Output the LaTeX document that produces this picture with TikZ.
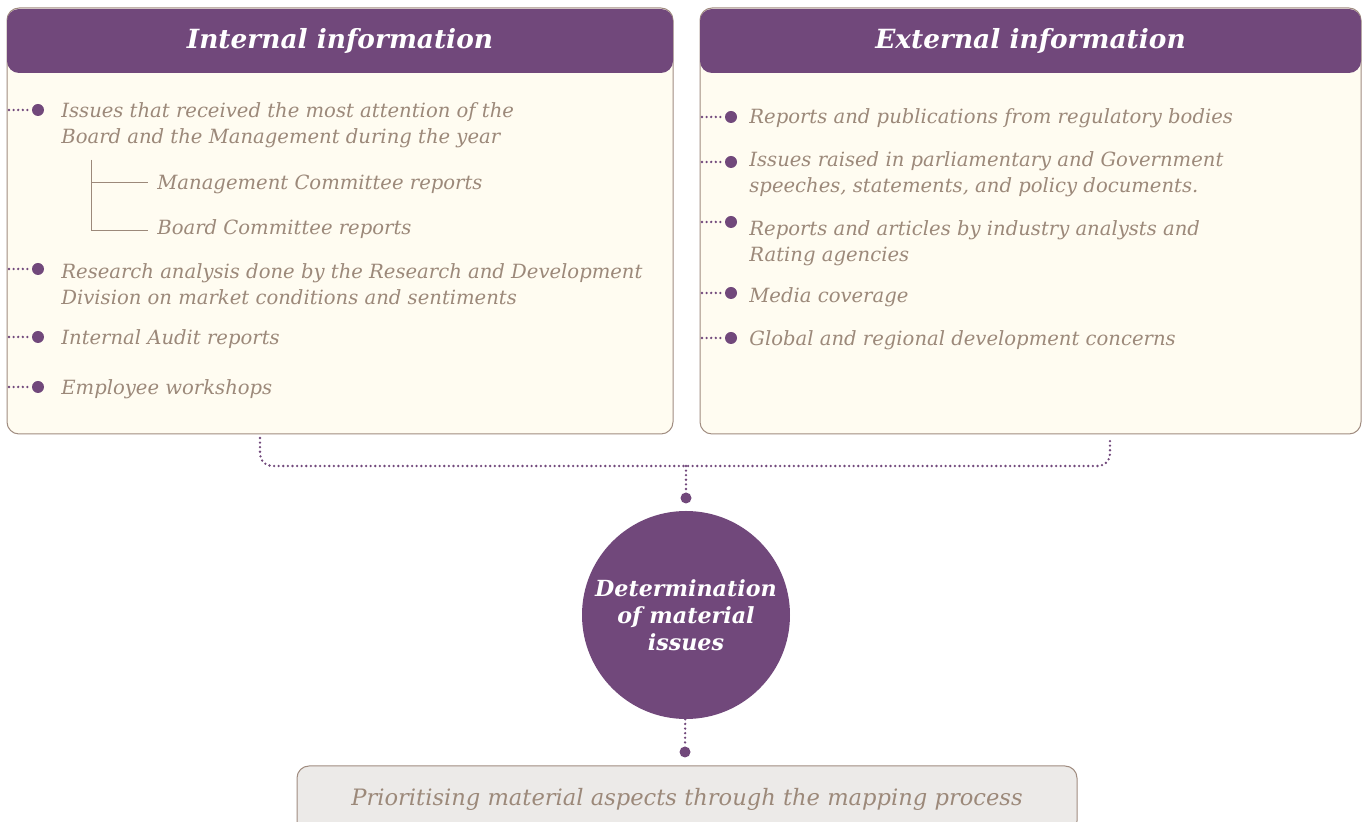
\documentclass[tikz,border=0pt]{standalone}
\usepackage{fontspec}
\setmainfont{DejaVu Serif}
\usetikzlibrary{positioning,calc}
\definecolor{infopurple}{RGB}{113,72,123}
\definecolor{infocream}{RGB}{255,252,241}
\definecolor{infotext}{RGB}{156,137,122}
\definecolor{infoborder}{RGB}{160,140,128}
\definecolor{prioritygray}{RGB}{236,234,232}

\begin{document}
\begin{tikzpicture}[x=0.5pt, y=-0.5pt,
    panel/.style={rectangle, rounded corners=6pt, draw=infoborder, fill=infocream, line width=0.5pt, minimum width=333pt, minimum height=213pt},
    header/.style={rectangle, rounded corners=6pt, fill=infopurple, minimum width=333pt, minimum height=32pt, text=white, font=\fontsize{13.2}{15}\selectfont\bfseries\itshape},
    item/.style={anchor=west, align=left, inner sep=0pt, text=infotext, font=\fontsize{9.8}{13}\selectfont\itshape},
    dot/.style={circle, fill=infopurple, inner sep=0pt, minimum size=6pt},
    link/.style={draw=infopurple, line width=1.3pt, line cap=round, dash pattern=on 0pt off 2.3pt},
    tree/.style={draw=infotext, line width=0.5pt},
    hub/.style={circle, fill=infopurple, minimum size=104pt, inner sep=0pt, text=white, align=center, font=\fontsize{11.1}{13.5}\selectfont\bfseries\itshape},
    result/.style={rectangle, rounded corners=6pt, draw=infoborder, fill=prioritygray, line width=0.5pt, minimum width=390pt, minimum height=33.5pt, text=infotext, font=\fontsize{11.3}{13}\selectfont\itshape}
]
\useasboundingbox (0,0) rectangle (1362,822);

% Internal information
\node[panel] (intbox) at (340,221) {};
\node[header] (inthead) at (340,41) {Internal information};

\coordinate (i1s) at (9,110);
\node[dot] (i1) at (38,110) {};
\draw[link] (i1s) -- (i1);
\node[item] (i1t) at (61,125) {Issues that received the most attention of the\\Board and the Management during the year};

\coordinate (treetop) at (91,160);
\node[item] (m1) at (157,184) {Management Committee reports};
\node[item] (b1) at (157,229) {Board Committee reports};
\draw[tree] (treetop) |- ([xshift=-4.5pt,yshift=0.5pt]m1.west);
\draw[tree] (treetop) |- ([xshift=-4.5pt,yshift=-1pt]b1.west);

\coordinate (i2s) at (9,269);
\node[dot] (i2) at (38,269) {};
\draw[link] (i2s) -- (i2);
\node[item] (i2t) at (61,284) {Research analysis done by the Research and Development\\Division on market conditions and sentiments};

\coordinate (i3s) at (9,337);
\node[dot] (i3) at (38,337) {};
\draw[link] (i3s) -- (i3);
\node[item] (i3t) at (61,339) {Internal Audit reports};

\coordinate (i4s) at (9,387);
\node[dot] (i4) at (38,387) {};
\draw[link] (i4s) -- (i4);
\node[item] (i4t) at (61,389) {Employee workshops};

% External information
\node[panel, minimum width=330.5pt] (extbox) at (1030.5,221) {};
\node[header, minimum width=330.5pt] (exthead) at (1030.5,41) {External information};

\coordinate (e1s) at (702,117);
\node[dot] (e1) at (731,117) {};
\draw[link] (e1s) -- (e1);
\node[item] (e1t) at (749,118) {Reports and publications from regulatory bodies};

\coordinate (e2s) at (702,162);
\node[dot] (e2) at (731,162) {};
\draw[link] (e2s) -- (e2);
\node[item] (e2t) at (749,174.5) {Issues raised in parliamentary and Government\\speeches, statements, and policy documents.};

\coordinate (e3s) at (702,222);
\node[dot] (e3) at (731,222) {};
\draw[link] (e3s) -- (e3);
\node[item] (e3t) at (749,243) {Reports and articles by industry analysts and\\Rating agencies};

\coordinate (e4s) at (702,293);
\node[dot] (e4) at (731,293) {};
\draw[link] (e4s) -- (e4);
\node[item] (e4t) at (749,297) {Media coverage};

\coordinate (e5s) at (702,338);
\node[dot] (e5) at (731,338) {};
\draw[link] (e5s) -- (e5);
\node[item] (e5t) at (749,340) {Global and regional development concerns};

% Merging into the hub
\coordinate (intout) at (260,438);
\coordinate (extout) at (1110,438);
\coordinate (merge) at (686,466);
\draw[link, rounded corners=6pt] (intout) |- (merge) -| (extout);
\node[dot, minimum size=5.5pt] (topdot) at (686,498) {};
\draw[link] (merge) -- (topdot);

\node[hub] (hub) at (686,615) {Determination\\of material\\issues};

\node[dot, minimum size=5.5pt] (botdot) at (685,752) {};
\draw[link] (hub) -- (botdot);

\node[result] (result) at (687,799.5) {Prioritising material aspects through the mapping process};

\end{tikzpicture}
\end{document}
